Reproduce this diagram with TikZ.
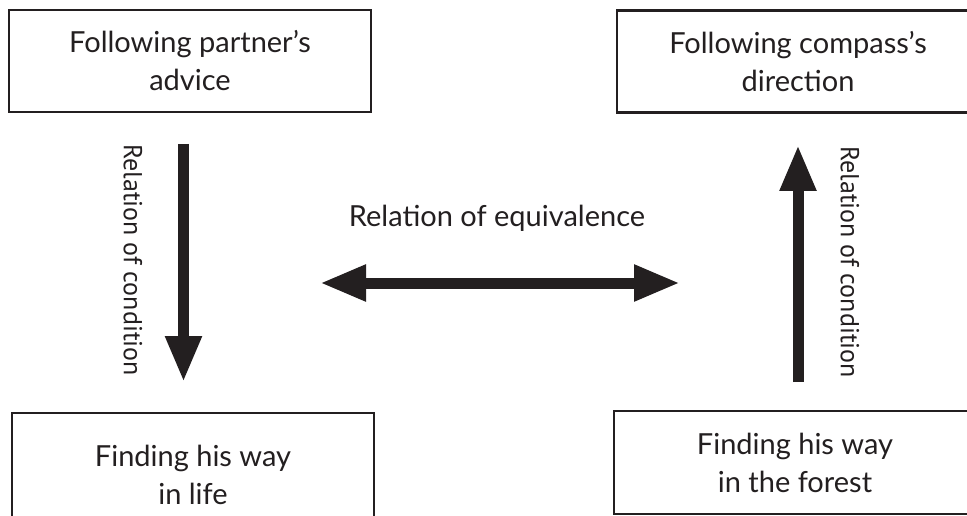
\documentclass[tikz,border=0pt]{standalone}
\usepackage{fontspec}
\setmainfont{Lato}
\newfontfamily\labelfont{PT Sans}
\usetikzlibrary{arrows.meta}
\definecolor{ink}{HTML}{231F20}
\begin{document}
\begin{tikzpicture}[x=1pt,y=-1pt,
  box/.style={draw=ink, line width=2.5pt, rectangle, minimum width=362pt,
    minimum height=102pt, inner sep=0pt, align=center, text=ink,
    font=\fontsize{29}{38}\selectfont},
  lbl/.style={text=ink, font=\labelfont\fontsize{26}{30}\selectfont, inner sep=0pt},
  eqlbl/.style={text=ink, font=\fontsize{29}{34}\selectfont, inner sep=0pt},
  fat/.style={draw=ink, line width=11pt, -{Triangle[width=34pt,length=46pt]}},
  fatboth/.style={draw=ink, line width=11pt,
    {Triangle[width=34pt,length=46pt]}-{Triangle[width=34pt,length=46pt]}}]
\clip (0,0) rectangle (967,516);
\fill[white] (0,0) rectangle (967,516);
% boxes
\node[box] (tl) at (190,61) {Following partner’s\\advice};
\node[box] (tr) at (798,61.5) {Following compass’s\\direction};
\node[box, minimum height=124pt] (bl) at (193,475) {Finding his way\\in life};
\node[box, minimum height=103pt] (br) at (795,462.5) {Finding his way\\in the forest};
% arrow ends
\coordinate (d1) at (183.5,144);
\coordinate (d2) at (183.5,382);
\coordinate (u1) at (798,382);
\coordinate (u2) at (798,145);
\coordinate (e1) at (320,283);
\coordinate (e2) at (680,283);
\draw[fat] (d1) -- (d2);
\draw[fat] (u1) -- (u2);
\draw[fatboth] (e1) -- (e2);
% labels
\node[lbl, rotate=-90] (lc) at (133,260) {Relation of condition};
\node[lbl, rotate=-90] (rc) at (850,262) {Relation of condition};
\node[eqlbl, anchor=base] (eq) at (497,226) {Relation of equivalence};
\end{tikzpicture}
\end{document}
